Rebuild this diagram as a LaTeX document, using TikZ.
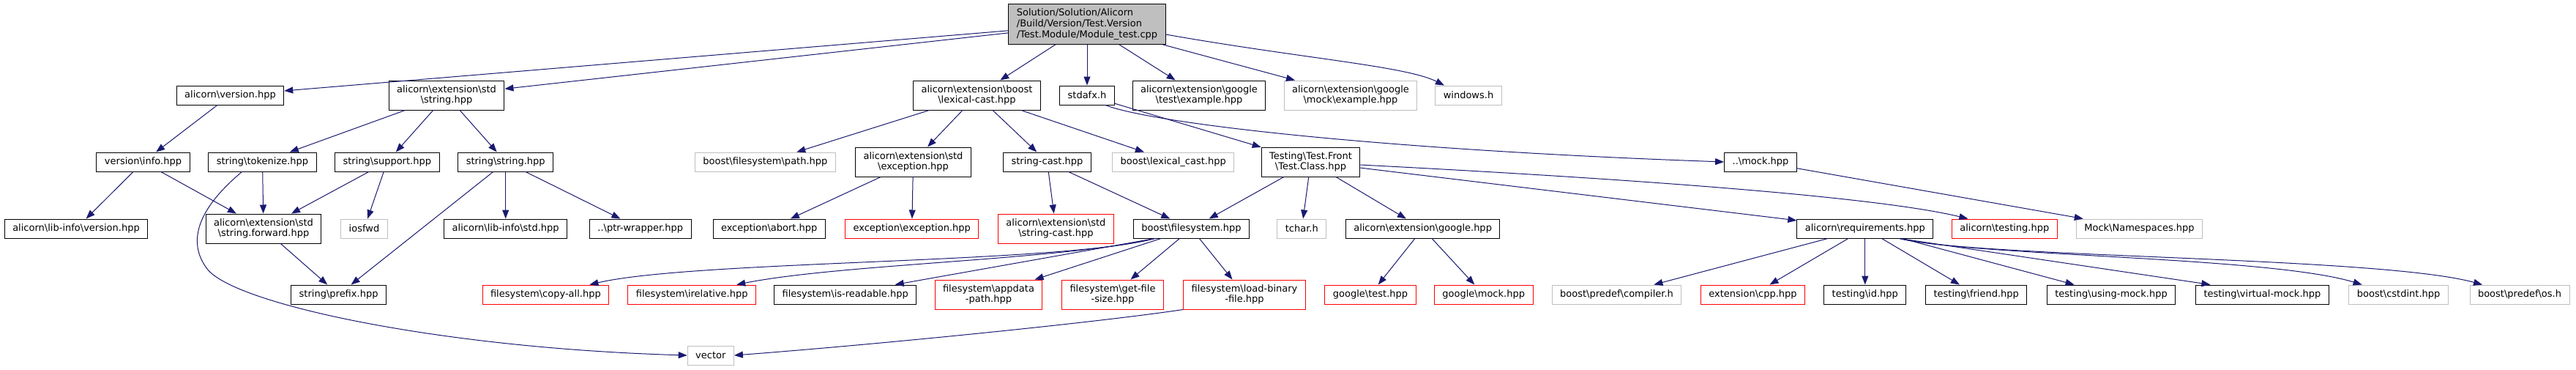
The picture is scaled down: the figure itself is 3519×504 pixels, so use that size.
\documentclass[tikz,border=0pt]{standalone}
\usepackage{fontspec}
\setmainfont{DejaVu Sans}
\usepackage{tikz}
\usetikzlibrary{arrows.meta}
\definecolor{edgeblue}{HTML}{191970}
\definecolor{missgray}{HTML}{BFBFBF}
\newcommand{\bsl}{\textbackslash}
\tikzset{
  hdr/.style   ={draw=black, fill=white, line width=1pt, align=center, inner xsep=11pt,
                 inner ysep=1pt, minimum height=26pt, font=\fontsize{13}{14}\selectfont},
  hdrtwo/.style={hdr, minimum height=40pt},
  miss/.style  ={draw=missgray},
  bad/.style   ={draw=red},
  rootbox/.style={hdr, fill=missgray, align=left, minimum height=55pt,
                 font=\fontsize{13}{14.7}\selectfont},
  inc/.style   ={-{Triangle[length=12pt,width=9pt]}, draw=edgeblue, line width=1pt},
}

\begin{document}
\begin{tikzpicture}[x=1pt, y=-1pt]
  \useasboundingbox (0,0) rectangle (3519,504);
  % top file
  \node[rootbox] (Root) at (1485,33) {Solution/Solution/Alicorn\\/Build/Version/Test.Version\\/Test.Module/Module\_test.cpp};
  % row 1
  \node[hdr]          (Ver)     at (314.5,130) {alicorn\bsl version.hpp};
  \node[hdrtwo]       (ExtStr)  at (610,130)   {alicorn\bsl extension\bsl std\\\bsl string.hpp};
  \node[hdrtwo]       (LexCast) at (1334.5,130){alicorn\bsl extension\bsl boost\\\bsl lexical-cast.hpp};
  \node[hdr]          (Stdafx)  at (1485,130)  {stdafx.h};
  \node[hdrtwo]       (GTestEx) at (1638,130)  {alicorn\bsl extension\bsl google\\\bsl test\bsl example.hpp};
  \node[hdrtwo, miss] (GMockEx) at (1845,130)  {alicorn\bsl extension\bsl google\\\bsl mock\bsl example.hpp};
  \node[hdr, miss]    (Windows) at (2006,130)  {windows.h};
  % row 2
  \node[hdr]          (VerInfo)   at (195.5,221)  {version\bsl info.hpp};
  \node[hdr]          (Tokenize)  at (358.5,221)  {string\bsl tokenize.hpp};
  \node[hdr]          (Support)   at (528.8,221)  {string\bsl support.hpp};
  \node[hdr]          (StrStr)    at (690.7,221)  {string\bsl string.hpp};
  \node[hdr, miss]    (FsPath)    at (1045.4,221) {boost\bsl filesystem\bsl path.hpp};
  \node[hdrtwo]       (ExtExc)    at (1247.5,221) {alicorn\bsl extension\bsl std\\\bsl exception.hpp};
  \node[hdr]          (StrCast)   at (1430.5,221) {string-cast.hpp};
  \node[hdr, miss]    (BoostLex)  at (1602.7,221) {boost\bsl lexical\_cast.hpp};
  \node[hdrtwo]       (TestClass) at (1790.5,221) {Testing\bsl Test.Front\\\bsl Test.Class.hpp};
  \node[hdr]          (Mock)      at (2405,221)   {..\bsl mock.hpp};
  % row 3
  \node[hdr]          (LibVer)     at (104,312)    {alicorn\bsl lib-info\bsl version.hpp};
  \node[hdrtwo]       (StrFwd)     at (360,312)    {alicorn\bsl extension\bsl std\\\bsl string.forward.hpp};
  \node[hdr, miss]    (Iosfwd)     at (497.5,312)  {iosfwd};
  \node[hdr]          (LibStd)     at (690.7,312)  {alicorn\bsl lib-info\bsl std.hpp};
  \node[hdr]          (PtrWrap)    at (874.7,312)  {..\bsl ptr-wrapper.hpp};
  \node[hdr]          (Abort)      at (1050.7,312) {exception\bsl abort.hpp};
  \node[hdr, bad]     (Exc)        at (1245.7,312) {exception\bsl exception.hpp};
  \node[hdrtwo, bad]  (ExtStrCast) at (1442.4,312) {alicorn\bsl extension\bsl std\\\bsl string-cast.hpp};
  \node[hdr]          (Fs)         at (1627.5,312) {boost\bsl filesystem.hpp};
  \node[hdr, miss]    (Tchar)      at (1778.3,312) {tchar.h};
  \node[hdr]          (Google)     at (1943.6,312) {alicorn\bsl extension\bsl google.hpp};
  \node[hdr]          (Req)        at (2547.8,312) {alicorn\bsl requirements.hpp};
  \node[hdr, bad]     (Testing)    at (2738.3,312) {alicorn\bsl testing.hpp};
  \node[hdr, miss]    (MockNs)     at (2922.5,312) {Mock\bsl Namespaces.hpp};
  % row 4
  \node[hdr]          (Prefix)    at (462.6,402)  {string\bsl prefix.hpp};
  \node[hdr, bad]     (CopyAll)   at (745.4,402)  {filesystem\bsl copy-all.hpp};
  \node[hdr, bad]     (Relative)  at (945.2,402)  {filesystem\bsl irelative.hpp};
  \node[hdr]          (IsRead)    at (1154.7,402) {filesystem\bsl is-readable.hpp};
  \node[hdrtwo, bad]  (Appdata)   at (1350.5,402) {filesystem\bsl appdata\\-path.hpp};
  \node[hdrtwo, bad]  (GetSize)   at (1520,402)   {filesystem\bsl get-file\\-size.hpp};
  \node[hdrtwo, bad]  (LoadBin)   at (1700,402)   {filesystem\bsl load-binary\\-file.hpp};
  \node[hdr, bad]     (GTest)     at (1872,402)   {google\bsl test.hpp};
  \node[hdr, bad]     (GMock)     at (2026.7,402) {google\bsl mock.hpp};
  \node[hdr, miss]    (Compiler)  at (2208.5,402) {boost\bsl predef\bsl compiler.h};
  \node[hdr, bad]     (Cpp)       at (2394.5,402) {extension\bsl cpp.hpp};
  \node[hdr]          (Id)        at (2547.8,402) {testing\bsl id.hpp};
  \node[hdr]          (Friend)    at (2699.7,402) {testing\bsl friend.hpp};
  \node[hdr]          (UsingMock) at (2884,402)   {testing\bsl using-mock.hpp};
  \node[hdr]          (VirtMock)  at (3090.4,402) {testing\bsl virtual-mock.hpp};
  \node[hdr, miss]    (Cstdint)   at (3276.6,402) {boost\bsl cstdint.hpp};
  \node[hdr, miss]    (Os)        at (3442,402)   {boost\bsl predef\bsl os.h};
  % row 5
  \node[hdr, miss]    (Vector)    at (970.8,485)  {vector};

  % includes
  \foreach \t in {Ver, ExtStr, LexCast, Stdafx, GTestEx, GMockEx}
    \draw[inc] (Root) -- (\t);
  \draw[inc] ([yshift=-14pt]Root.east) .. controls (1780,80) and (1920,90) .. ([xshift=-33pt]Windows.north);
  \draw[inc] (Ver) -- (VerInfo);
  \draw[inc] (VerInfo) -- (LibVer);
  \draw[inc] (VerInfo) -- (StrFwd);
  \foreach \t in {Tokenize, Support, StrStr}
    \draw[inc] (ExtStr) -- (\t);
  \draw[inc] (Tokenize) -- (StrFwd);
  \draw[inc] ([xshift=-28pt]Tokenize.south) .. controls (270,285) and (255,330) .. (283,367)
             .. controls (320,415) and (600,475) .. (Vector.west);
  \draw[inc] (Support) -- (StrFwd);
  \draw[inc] (Support) -- (Iosfwd);
  \draw[inc] (StrFwd) -- (Prefix);
  \draw[inc] (StrStr) -- (Prefix);
  \draw[inc] (StrStr) -- (LibStd);
  \draw[inc] (StrStr) -- (PtrWrap);
  \foreach \t in {FsPath, ExtExc, StrCast, BoostLex}
    \draw[inc] (LexCast) -- (\t);
  \draw[inc] (ExtExc) -- (Abort);
  \draw[inc] (ExtExc) -- (Exc);
  \draw[inc] (StrCast) -- (ExtStrCast);
  \draw[inc] (StrCast) -- (Fs);
  \draw[inc] (Stdafx) -- (TestClass);
  \draw[inc] ([xshift=25pt]Stdafx.south) .. controls (1580,170) and (1900,205) .. (Mock.west);
  \draw[inc] (Mock) -- (MockNs);
  \foreach \t in {Fs, Tchar, Google, Req}
    \draw[inc] (TestClass) -- (\t);
  \draw[inc] ([yshift=-4pt]TestClass.east) .. controls (2150,240) and (2550,265) .. ([xshift=-50pt]Testing.north);
  \draw[inc] ([xshift=-50pt]Fs.south) .. controls (1450,360) and (950,355) .. ([xshift=60pt]CopyAll.north);
  \draw[inc] ([xshift=-50pt]Fs.south) .. controls (1450,355) and (1150,360) .. ([xshift=61pt]Relative.north);
  \draw[inc] ([xshift=-50pt]Fs.south) -- ([xshift=68pt]IsRead.north);
  \foreach \t in {Appdata, GetSize, LoadBin}
    \draw[inc] (Fs) -- (\t);
  \draw[inc] (LoadBin.south west) .. controls (1500,440) and (1200,470) .. (Vector.east);
  \draw[inc] (Google) -- (GTest);
  \draw[inc] (Google) -- (GMock);
  \foreach \t in {Compiler, Cpp, Id, Friend, UsingMock}
    \draw[inc] (Req) -- (\t);
  \draw[inc] ([xshift=47pt]Req.south) -- ([xshift=-71pt]VirtMock.north);
  \draw[inc] ([xshift=47pt]Req.south) .. controls (2700,350) and (3100,350) .. ([xshift=-50pt]Cstdint.north);
  \draw[inc] ([xshift=47pt]Req.south) .. controls (2700,352) and (3250,350) .. ([xshift=-51pt]Os.north);
\end{tikzpicture}
\end{document}
